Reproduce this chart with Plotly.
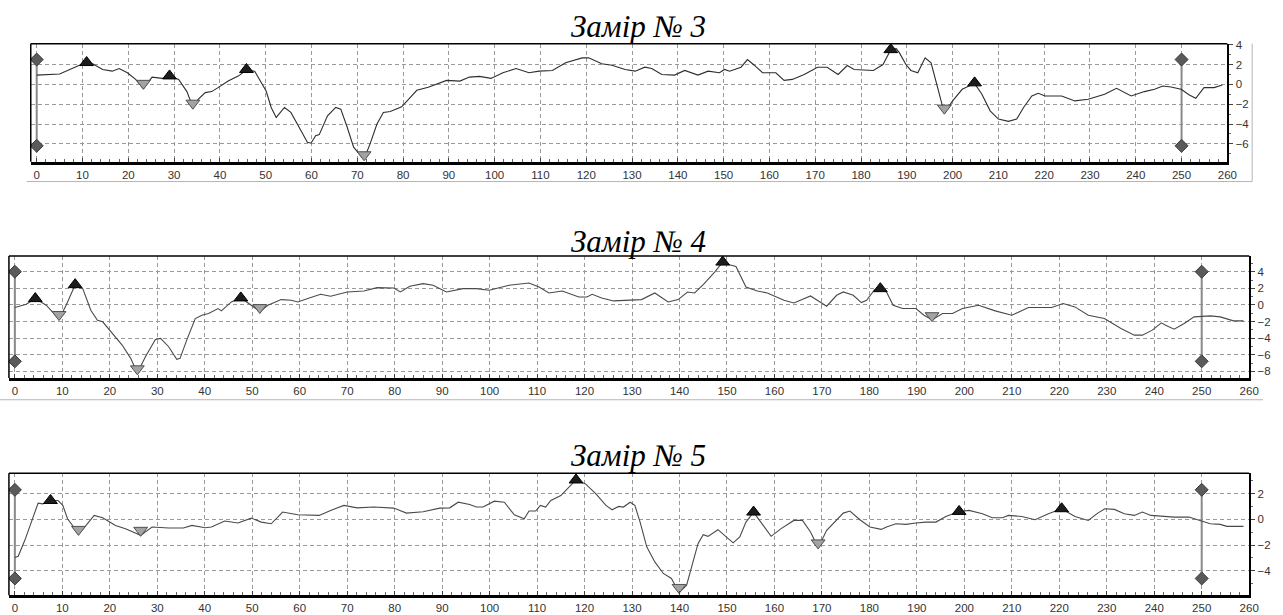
import plotly.graph_objects as go

W, H = 1283, 615

# ---------------- data ----------------
titles = ["Замір № 3", "Замір № 4", "Замір № 5"]
x_ticks = list(range(0, 261, 10))

# Замір № 3
x3 = [0, 5, 9.7, 10.9, 12.2, 14.4, 16.5, 18, 19.8, 21.6, 23.3, 25.2, 27.4, 29, 31, 32.8, 34.1, 35.3, 36.8,
      38.2, 39.6, 41.8, 44, 45.8, 47.6, 49, 50.1, 51.2, 52.3, 54.1, 55.5, 57.3, 59.1, 59.9, 60.9, 61.7, 63.5,
      65.3, 66.4, 67.8, 69.2, 70.7, 71.5, 72.8, 74.3, 75.7, 77.2, 79.7, 81.5, 83, 85.5, 89.5, 92.4, 94.5,
      96.7, 99.2, 101.8, 104.7, 107.5, 109.7, 112.6, 115.5, 119.1, 120.5, 123.4, 125.6, 128.5, 130.7, 132.8,
      134.3, 136.5, 139.3, 141.5, 144.4, 146.6, 149.1, 150.2, 151.3, 153.8, 155.2, 156.7, 158.5, 161.4,
      163.2, 165, 167.6, 170.5, 172.6, 175, 177, 178.5, 182.7, 184.8, 186.5, 187.7, 188.4, 189.8, 190.9,
      192.4, 194, 195.3, 196.4, 197.5, 198.2, 200, 202.1, 204.8, 206.4, 208.2, 210, 212.2, 214, 215.5,
      217.3, 218.7, 220.2, 223.8, 226.7, 229.6, 233.2, 235.8, 239, 241.9, 244.1, 245.9, 247.7, 249.9,
      251.7, 253.1, 254.9, 257.1, 258.9]
y3 = [0.93, 1.05, 2.0, 2.15, 2.07, 1.5, 1.33, 1.6, 1.17, 0.5, -0.4, 0.73, 0.6, 0.83, 0.5, -0.73, -2.3, -1.5,
      -0.83, -0.73, -0.33, 0.33, 0.83, 1.45, 1.33, 0.17, -0.67, -2.33, -3.33, -2.33, -2.83, -4.33, -5.83,
      -5.93, -5.17, -5.07, -3.17, -2.33, -2.5, -4.33, -6.33, -7.17, -7.5, -6.0, -4.0, -2.83, -2.73, -2.27,
      -1.33, -0.6, -0.3, 0.4, 0.33, 0.73, 0.8, 0.6, 1.17, 1.6, 1.17, 1.33, 1.4, 2.17, 2.67, 2.67, 2.07,
      1.93, 1.5, 1.33, 1.73, 1.6, 1.0, 0.93, 1.4, 0.93, 1.33, 1.17, 1.5, 1.33, 1.73, 2.5, 1.93, 1.17, 1.17,
      0.4, 0.5, 1.0, 1.73, 1.73, 1.0, 1.9, 1.5, 1.4, 2.0, 3.5, 3.6, 3.17, 2.0, 1.4, 1.17, 2.67, 2.17, 0.33,
      -1.67, -2.9, -1.67, -0.5, 0.1, -1.0, -2.67, -3.5, -3.73, -3.5, -2.33, -1.17, -0.9, -1.17, -1.17,
      -1.67, -1.5, -1.0, -0.4, -1.17, -0.73, -0.5, -0.17, -0.27, -0.5, -1.07, -1.4, -0.33, -0.33, -0.07]
peaks3_x = [10.9, 29, 45.8, 186.5, 204.8]
peaks3_y = [2.2, 0.85, 1.5, 3.5, 0.15]
troughs3_x = [23.3, 34.1, 71.5, 198.2]
troughs3_y = [0.1, -1.9, -7.1, -2.4]
ends3_y = [2.5, -6.2]

# Замір № 4
x4 = [0, 2.4, 4.3, 6.6, 9.3, 10.8, 12.7, 14.3, 16, 17.4, 18.5, 20.9, 22.6, 24.4, 25.8, 27.5, 29.6, 30.7,
      32.4, 34.1, 34.8, 36.2, 38, 39.4, 40.8, 42.8, 43.5, 45.6, 47.6, 49.8, 51.6, 53.3, 56.1, 58.2, 59.6,
      61.7, 64.4, 66.5, 70, 73.5, 76.3, 79.8, 81.2, 83.2, 86, 88.1, 90.9, 94.4, 97.2, 99.9, 104.1, 108.3,
      110.4, 112.5, 115.3, 118.8, 120.5, 121.6, 123.6, 126.1, 132, 134.8, 137.6, 139.7, 141.7, 143.2,
      145.2, 147.4, 149.1, 150.5, 151.9, 154, 156.4, 158.5, 162, 164.1, 167.6, 169.6, 171, 173.1, 174.5,
      176.6, 178.3, 179.4, 181.1, 182.3, 183.6, 185, 187, 189.8, 191.5, 193.2, 195.4, 197.5, 199.6, 203,
      206.5, 210, 213.5, 218.4, 220.8, 223.3, 226.1, 229.5, 233, 235.8, 237.5, 239.6, 241.5, 242.4,
      244.2, 246.3, 248.4, 251.8, 253.9, 256.7, 258.8]
y4 = [-0.32, 0.08, 0.76, -0.04, -1.7, -0.04, 2.44, 1.96, -0.64, -1.84, -2.04, -3.64, -4.84, -6.44, -8.2,
      -6.24, -4.16, -4.04, -5.04, -6.56, -6.44, -4.24, -1.64, -1.24, -1.04, -0.44, -0.72, 0.36, 0.84,
      -0.04, -0.8, -0.04, 0.64, 0.56, 0.36, 0.76, 1.28, 1.04, 1.56, 1.68, 2.08, 2.04, 1.56, 2.24, 2.56,
      2.36, 1.56, 1.96, 1.96, 1.76, 2.36, 2.64, 2.16, 1.44, 1.68, 0.96, 0.96, 1.28, 0.84, 0.48, 0.64,
      1.44, 0.36, 0.64, 1.56, 1.44, 2.56, 3.96, 5.16, 4.84, 4.64, 2.16, 1.68, 1.44, 0.56, 0.24, 1.08,
      0.36, -0.16, 1.16, 1.56, 1.16, 0.28, 0.56, 1.84, 1.96, 1.56, -0.04, -0.44, -0.44, -1.24, -1.8,
      -1.04, -1.04, -0.44, -0.04, -0.72, -1.24, -0.32, -0.32, 0.16, -0.24, -1.24, -1.64, -2.84, -3.64,
      -3.64, -3.04, -2.16, -2.44, -2.92, -2.24, -1.44, -1.32, -1.44, -1.92, -1.92]
peaks4_x = [4.3, 12.7, 47.6, 149.1, 182.3]
peaks4_y = [0.76, 2.44, 0.84, 5.16, 1.96]
troughs4_x = [9.3, 25.8, 51.6, 193.2]
troughs4_y = [-1.16, -7.7, -0.32, -1.3]
ends4_y = [4.0, -6.8]

# Замір № 5
x5 = [0, 0.7, 2.1, 3.5, 4.9, 5.9, 7.5, 9.1, 10.1, 11.1, 13.4, 15, 16.7, 18.5, 21.2, 23.3, 26.5, 28.9,
      32.4, 35.5, 37.3, 40.1, 41.4, 44.2, 47, 49.8, 51.9, 54, 56.4, 59.6, 64.1, 66.5, 69.3, 72.1, 75.6,
      79.8, 82.5, 86, 89.5, 91.6, 93.4, 95.8, 97.2, 98.6, 101, 103.1, 105.2, 107.3, 108.3, 109.7, 110.7,
      111.8, 112.9, 115, 116.7, 118.2, 120.2, 122.4, 124.5, 125.8, 127.2, 128.2, 129.6, 130.6, 131.7,
      133.1, 134.8, 136.6, 138.3, 139.9, 141.5, 142.9, 143.9, 145, 146, 148.1, 150.6, 151.3, 152.7, 154,
      155.6, 157.2, 159.3, 161.4, 164.1, 165.9, 167.6, 169.2, 171, 174.5, 175.9, 178, 180.1, 182.5, 183.6,
      185.6, 187.7, 189.8, 191.9, 194, 196.1, 198.9, 201, 203.8, 205.9, 208, 209.3, 212.1, 214.9, 217.7,
      220.5, 223.3, 226.1, 228.1, 229.6, 231.6, 233.7, 235.8, 237.5, 239.3, 242.1, 244.2, 247.3, 249.7,
      251.8, 253.9, 255.3, 258.8]
y5 = [-2.97, -2.87, -1.63, -0.21, 1.27, 1.21, 1.47, 1.47, 1.09, 0.05, -1.11, -0.47, 0.31, 0.13, -0.47,
      -0.72, -1.24, -0.59, -0.67, -0.67, -0.47, -0.65, -0.59, -0.13, -0.28, 0.10, -0.21, -0.34, 0.57,
      0.36, 0.31, 0.70, 1.09, 0.90, 0.96, 0.88, 0.49, 0.6, 0.88, 0.90, 1.34, 1.16, 0.96, 0.96, 1.42, 1.34,
      0.36, 0.05, 0.65, 0.65, 1.09, 0.96, 1.47, 1.86, 2.51, 3.07, 2.76, 1.99, 1.09, 0.75, 1.01, 0.96,
      1.34, 1.09, -0.21, -2.14, -3.31, -4.21, -4.60, -5.7, -5.12, -3.31, -1.89, -1.19, -1.32, -0.80,
      -1.63, -1.83, -1.37, -0.21, 0.57, -0.21, -1.32, -0.72, -0.08, -0.08, -0.98, -2.2, -0.85, 0.49,
      0.65, -0.03, -0.59, -0.78, -0.59, -0.34, -0.39, -0.28, -0.21, -0.21, 0.23, 0.62, 0.70, 0.44, 0.13,
      0.13, 0.31, 0.23, -0.03, 0.44, 0.83, 0.23, -0.08, 0.49, 0.83, 0.78, 0.44, 0.31, 0.57, 0.31, 0.23,
      0.18, 0.18, -0.08, -0.34, -0.39, -0.54, -0.54]
peaks5_x = [7.5, 118.2, 155.6, 198.9, 220.5]
peaks5_y = [1.47, 3.07, 0.57, 0.62, 0.83]
troughs5_x = [13.4, 26.5, 139.9, 169.2]
troughs5_y = [-0.78, -0.85, -5.3, -1.83]
ends5_y = [2.3, -4.6]

ends_x = [0, 250]

series = [
    (x3, y3, peaks3_x, peaks3_y, troughs3_x, troughs3_y, ends3_y),
    (x4, y4, peaks4_x, peaks4_y, troughs4_x, troughs4_y, ends4_y),
    (x5, y5, peaks5_x, peaks5_y, troughs5_x, troughs5_y, ends5_y),
]

# ---------------- layout geometry (pixels) ----------------
boxes = [(31, 1237, 39, 158), (9, 1259, 253, 376), (9, 1259, 472, 595)]
xranges = [[-1.3, 260], [-1.25, 260], [-1.25, 260]]
yranges = [[-7.8, 4.1], [-8.8, 5.9], [-5.9, 3.6]]
title_py = [22, 238, 454]
line_colors = ["#2e2e2e", "#4a4a4a", "#4a4a4a"]
TITLE_FONT = "'Liberation Serif', 'Times New Roman', 'DejaVu Serif', serif"

def px(x):
    return x / W

def py(y):
    return 1 - y / H

fig = go.Figure()
layout = dict(width=W, height=H, margin=dict(l=0, r=0, t=0, b=0),
              paper_bgcolor="white", plot_bgcolor="white", showlegend=False)
shapes = []
annotations = []

for i, (xs, ys, pkx, pky, trx, tr_y, ends_y) in enumerate(series):
    n = "" if i == 0 else str(i + 1)
    xa, ya = "x" + n, "y" + n
    for ex in ends_x:
        fig.add_trace(go.Scatter(x=[ex, ex], y=ends_y, mode="lines",
                                 line=dict(color="#8a8a8a", width=2), xaxis=xa, yaxis=ya,
                                 hoverinfo="skip"))
    fig.add_trace(go.Scatter(x=xs, y=ys, mode="lines", line=dict(color=line_colors[i], width=1.1),
                             xaxis=xa, yaxis=ya))
    fig.add_trace(go.Scatter(x=[ends_x[0], ends_x[0], ends_x[1], ends_x[1]],
                             y=[ends_y[0], ends_y[1], ends_y[0], ends_y[1]], mode="markers",
                             marker=dict(symbol="diamond", size=10, color="#5a5a5a",
                                         line=dict(color="#3a3a3a", width=1)),
                             xaxis=xa, yaxis=ya))
    fig.add_trace(go.Scatter(x=pkx, y=pky, mode="markers",
                             marker=dict(symbol="triangle-up", size=12, color="#1c1c1c",
                                         line=dict(color="#000000", width=1)),
                             xaxis=xa, yaxis=ya))
    fig.add_trace(go.Scatter(x=trx, y=tr_y, mode="markers",
                             marker=dict(symbol="triangle-down", size=12, color="#a3a3a3",
                                         line=dict(color="#505050", width=1)),
                             xaxis=xa, yaxis=ya))

    l, r, t, b = boxes[i]
    layout["xaxis" + n] = dict(
        domain=[px(l), px(r)], range=xranges[i], anchor=ya,
        tickmode="array", tickvals=x_ticks, ticktext=[str(v) for v in x_ticks],
        showgrid=True, gridcolor="#9a9a9a", griddash="4px,3px", gridwidth=1,
        showline=True, linecolor="black", linewidth=3,
        ticks="inside", ticklen=4, tickcolor="#444",
        minor=dict(dtick=2, ticks="inside", ticklen=3, tickcolor="#666", showgrid=False),
        tickfont=dict(family="Liberation Sans, Arial", size=11.5, color="#333"),
        zeroline=False, fixedrange=True,
    )
    layout["yaxis" + n] = dict(
        domain=[py(b), py(t)], range=yranges[i], anchor=xa, side="right",
        dtick=2, tick0=0,
        showgrid=True, gridcolor="#9a9a9a", griddash="4px,3px", gridwidth=1,
        showline=True, linecolor="black", linewidth=2,
        ticks="outside", ticklen=4, tickcolor="#444",
        minor=dict(dtick=1, ticks="outside", ticklen=2, tickcolor="#666", showgrid=False),
        tickfont=dict(family="Liberation Sans, Arial", size=11.5, color="#333"),
        zeroline=False, fixedrange=True,
    )
    shapes.append(dict(type="line", xref="paper", yref="paper", x0=px(l), x1=px(r), y0=py(t), y1=py(t),
                       line=dict(color="black", width=1.5)))
    shapes.append(dict(type="line", xref="paper", yref="paper", x0=px(l), x1=px(l), y0=py(t), y1=py(b),
                       line=dict(color="black", width=1.5)))
    annotations.append(dict(text="<i>" + titles[i] + "</i>", xref="paper", yref="paper",
                            x=px(644), y=py(title_py[i]),
                            xanchor="center", yanchor="middle", showarrow=False,
                            font=dict(family=TITLE_FONT, size=31, color="black")))

shapes.append(dict(type="line", xref="paper", yref="paper", x0=px(27), x1=px(1262), y0=py(178), y1=py(178),
                   line=dict(color="#b5b5b5", width=1)))
shapes.append(dict(type="line", xref="paper", yref="paper", x0=px(1262), x1=px(1262), y0=py(39), y1=py(178),
                   line=dict(color="#b5b5b5", width=1)))
shapes.append(dict(type="line", xref="paper", yref="paper", x0=px(0), x1=px(1273), y0=py(398), y1=py(398),
                   line=dict(color="#b5b5b5", width=1)))

layout["shapes"] = shapes
layout["annotations"] = annotations
fig.update_layout(**layout)
fig.write_html("out.html")
